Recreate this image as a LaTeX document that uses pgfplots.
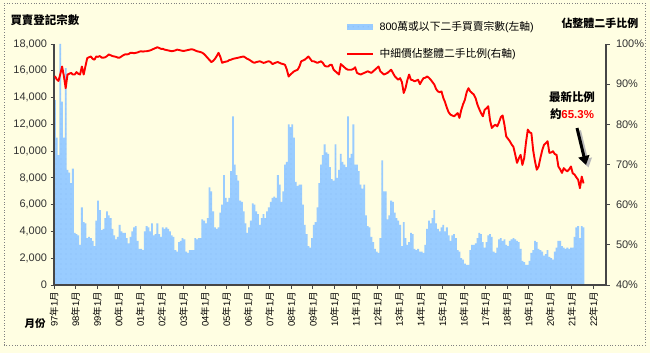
\documentclass[border=0pt]{standalone}
\usepackage{pgfplots}
\pgfplotsset{compat=1.18}
\usepackage{pgfplotstable}
\usepackage{fontspec}
\setmainfont{Liberation Sans}
\newfontfamily\cjk{Noto Sans CJK TC}
\usetikzlibrary{patterns.meta,arrows.meta}
\definecolor{bg}{RGB}{255,254,226}
\definecolor{barblue}{RGB}{153,204,255}
\definecolor{dotblue}{RGB}{110,160,235}
\definecolor{axgray}{RGB}{70,70,70}
\definecolor{lblgray}{RGB}{50,50,50}
\tikzdeclarepattern{
  name=bdots,
  type=uncolored,
  bounding box={(0,0) and (4.5bp,4.5bp)},
  tile size={(4.5bp,4.5bp)},
  code={\fill (2.25bp,2.25bp) circle (0.45bp);}
}
\newcommand\nian{{\cjk 年}}
\newcommand\yue{{\cjk 月}}

\pgfplotstableread[row sep=\\]{
m cnt pct\\
0 13800 92.0\\ 1 11000 91.2\\ 2 9700 90.8\\ 3 18000 92.5\\ 4 13700 94.4\\ 5 11000 92.0\\ 6 16200 89.0\\ 7 8600 92.4\\ 8 8400 92.6\\ 9 7600 92.8\\ 10 8700 92.4\\ 11 3900 92.4\\
12 3800 93.0\\ 13 3700 92.6\\ 14 3000 92.4\\ 15 5800 94.4\\ 16 4700 92.4\\ 17 4600 94.5\\ 18 3500 96.5\\ 19 3600 96.7\\ 20 3500 96.9\\ 21 3300 96.3\\ 22 2900 96.1\\ 23 4800 96.9\\
24 6300 96.8\\ 25 5600 97.0\\ 26 4100 96.6\\ 27 4200 96.6\\ 28 5000 96.7\\ 29 5500 97.0\\ 30 5200 97.4\\ 31 5000 97.2\\ 32 4200 97.0\\ 33 3700 96.9\\ 34 3400 96.8\\ 35 3600 96.6\\
36 4500 96.6\\ 37 4000 96.9\\ 38 3900 97.2\\ 39 3900 97.4\\ 40 3500 97.4\\ 41 3100 97.5\\ 42 3600 97.8\\ 43 4000 97.8\\ 44 4300 97.7\\ 45 4400 97.8\\ 46 3300 97.9\\ 47 2700 98.1\\
48 2700 98.2\\ 49 2600 98.1\\ 50 4000 98.2\\ 51 4400 98.2\\ 52 4300 98.3\\ 53 4000 98.4\\ 54 4600 98.6\\ 55 3700 98.8\\ 56 3800 99.0\\ 57 4600 99.2\\ 58 3800 99.0\\ 59 3600 98.8\\
60 4300 98.8\\ 61 4200 98.6\\ 62 4300 98.5\\ 63 4200 98.4\\ 64 4000 98.3\\ 65 3700 98.2\\ 66 3600 98.3\\ 67 2600 98.4\\ 68 2500 98.6\\ 69 3200 98.5\\ 70 3300 98.4\\ 71 3500 98.3\\
72 3400 98.3\\ 73 2500 98.4\\ 74 2400 98.5\\ 75 2600 98.6\\ 76 2600 98.7\\ 77 2600 98.6\\ 78 3500 98.4\\ 79 3400 98.2\\ 80 3500 98.1\\ 81 3500 98.0\\ 82 4900 97.8\\ 83 4800 97.5\\
84 4600 97.0\\ 85 5000 96.5\\ 86 7300 96.0\\ 87 7000 95.5\\ 88 5500 95.8\\ 89 4300 96.3\\ 90 4200 97.0\\ 91 4300 97.8\\ 92 5400 96.8\\ 93 6000 95.3\\ 94 8200 95.5\\ 95 6500 95.6\\
96 6200 95.7\\ 97 6500 96.0\\ 98 8500 96.1\\ 99 12600 96.3\\ 100 9000 96.4\\ 101 8200 96.5\\ 102 7800 96.6\\ 103 6300 96.7\\ 104 6200 96.8\\ 105 5500 96.9\\ 106 4600 96.6\\ 107 3900 96.3\\
108 4300 96.1\\ 109 4800 95.8\\ 110 6100 95.5\\ 111 6000 95.3\\ 112 5500 95.5\\ 113 5300 95.6\\ 114 4500 95.7\\ 115 5000 95.5\\ 116 5300 95.3\\ 117 5000 95.4\\ 118 5500 95.6\\ 119 5800 95.7\\
120 6200 95.5\\ 121 6500 95.0\\ 122 6600 95.2\\ 123 6500 95.4\\ 124 8200 95.5\\ 125 7500 95.3\\ 126 6200 95.1\\ 127 7000 95.0\\ 128 9000 94.8\\ 129 9200 93.6\\ 130 12000 91.9\\ 131 11800 92.4\\
132 12000 92.8\\ 133 11000 93.2\\ 134 7700 93.4\\ 135 7400 93.6\\ 136 7500 94.4\\ 137 7500 95.7\\ 138 6000 95.9\\ 139 4500 96.1\\ 140 3800 96.5\\ 141 2900 96.9\\ 142 2800 96.3\\ 143 3500 95.7\\
144 4500 95.7\\ 145 4700 95.5\\ 146 5800 95.3\\ 147 7600 95.5\\ 148 9000 95.7\\ 149 9700 95.3\\ 150 10500 94.6\\ 151 9900 94.4\\ 152 9800 94.4\\ 153 8800 94.8\\ 154 7900 94.8\\ 155 7800 93.6\\
156 10500 93.2\\ 157 8000 92.8\\ 158 8600 92.4\\ 159 9800 95.0\\ 160 9200 94.6\\ 161 9000 94.2\\ 162 8800 93.8\\ 163 12600 93.6\\ 164 9500 93.6\\ 165 9800 93.6\\ 166 12000 93.8\\ 167 9000 94.2\\
168 9000 92.8\\ 169 8500 92.6\\ 170 7500 92.4\\ 171 7200 92.6\\ 172 7500 92.8\\ 173 5200 93.0\\ 174 4400 93.2\\ 175 4300 93.0\\ 176 3600 92.8\\ 177 3200 93.2\\ 178 2700 93.6\\ 179 2500 94.0\\
180 2400 94.4\\ 181 3500 93.2\\ 182 9300 92.8\\ 183 7000 92.4\\ 184 7000 92.6\\ 185 4900 92.8\\ 186 5200 93.2\\ 187 6300 93.6\\ 188 6200 92.8\\ 189 5400 92.0\\ 190 5000 91.5\\ 191 4800 91.1\\
192 4500 91.5\\ 193 2900 90.5\\ 194 4700 87.8\\ 195 3500 89.0\\ 196 3000 91.0\\ 197 3200 92.4\\ 198 3900 91.1\\ 199 3800 91.0\\ 200 2700 90.7\\ 201 2600 90.9\\ 202 2700 91.1\\ 203 2500 90.0\\
204 2500 90.8\\ 205 2400 91.5\\ 206 3000 91.6\\ 207 4200 91.9\\ 208 4800 91.6\\ 209 4600 91.1\\ 210 5000 90.5\\ 211 5600 89.9\\ 212 4600 88.8\\ 213 4200 88.2\\ 214 4000 88.0\\ 215 4300 88.2\\
216 4500 86.6\\ 217 4000 85.5\\ 218 4300 84.1\\ 219 3700 83.0\\ 220 3300 82.4\\ 221 3700 82.2\\ 222 3800 82.0\\ 223 3500 82.4\\ 224 2600 82.8\\ 225 2500 81.6\\ 226 2000 83.6\\ 227 1900 85.0\\
228 1600 86.1\\ 229 1500 88.0\\ 230 1500 89.0\\ 231 2600 88.2\\ 232 3000 87.8\\ 233 3000 87.4\\ 234 3100 86.5\\ 235 3500 84.9\\ 236 3900 83.8\\ 237 3800 82.8\\ 238 3200 82.0\\ 239 2800 83.6\\
240 3200 84.0\\ 241 3700 84.5\\ 242 3800 81.0\\ 243 3600 79.1\\ 244 2500 79.6\\ 245 2400 79.9\\ 246 2800 79.5\\ 247 3400 80.5\\ 248 3500 81.8\\ 249 3300 82.2\\ 250 3400 79.9\\ 251 3000 77.0\\
252 2900 76.4\\ 253 3300 75.8\\ 254 3400 75.0\\ 255 3500 74.4\\ 256 3400 72.5\\ 257 3300 70.4\\ 258 3200 71.5\\ 259 2700 72.4\\ 260 1800 69.9\\ 261 1700 71.6\\ 262 1500 75.5\\ 263 1500 78.7\\
264 1800 78.0\\ 265 2400 77.8\\ 266 2600 73.5\\ 267 3300 70.8\\ 268 3200 68.7\\ 269 2700 69.5\\ 270 2600 71.6\\ 271 2500 73.5\\ 272 2200 74.9\\ 273 2300 75.3\\ 274 2600 75.8\\ 275 2100 72.9\\
276 2000 73.0\\ 277 1900 73.3\\ 278 2500 72.6\\ 279 2800 72.4\\ 280 3300 69.5\\ 281 3300 68.8\\ 282 2900 67.9\\ 283 2800 69.1\\ 284 2700 68.6\\ 285 2800 68.3\\ 286 2700 68.8\\ 287 2800 69.5\\
288 2800 67.8\\ 289 3600 67.5\\ 290 4300 66.8\\ 291 4400 66.2\\ 292 3500 64.1\\ 293 4400 67.0\\ 294 4300 65.3\\ 295 4300 nan\\
}\data

\begin{document}
\begin{tikzpicture}[x=1bp,y=1bp]
\path[use as bounding box] (0,0) rectangle (650,353);
\fill[bg] (0,0) rectangle (650,353);
\draw[gray, dotted, line width=0.7bp] (4,8) rectangle (645,350);

\begin{axis}[
  at={(54bp,68bp)}, anchor=south west,
  width=552bp, height=241bp, scale only axis,
  xmin=0, xmax=307, ymin=0, ymax=18000,
  axis x line*=bottom, axis y line*=left,
  axis line style={axgray, line width=1.3bp},
  axis on top,
  scaled y ticks=false,
  xtick={0,12,...,300},
  xticklabels={{97\nian1\yue},{98\nian1\yue},{99\nian1\yue},{00\nian1\yue},{01\nian1\yue},{02\nian1\yue},{03\nian1\yue},{04\nian1\yue},{05\nian1\yue},{06\nian1\yue},{07\nian1\yue},{08\nian1\yue},{09\nian1\yue},{10\nian1\yue},{11\nian1\yue},{12\nian1\yue},{13\nian1\yue},{14\nian1\yue},{15\nian1\yue},{16\nian1\yue},{17\nian1\yue},{18\nian1\yue},{19\nian1\yue},{20\nian1\yue},{21\nian1\yue},{22\nian1\yue}},
  ytick={0,2000,...,18000},
  tick align=outside, major tick length=3.5bp,
  tick style={axgray, line width=0.9bp},
  xticklabel style={rotate=90, anchor=east, font=\fontsize{9.5}{10}\selectfont, text=black},
  yticklabel style={font=\fontsize{11}{12}\selectfont, text=lblgray},
  /pgf/number format/1000 sep={,},
  /pgf/number format/assume math mode=true,
]
\addplot[draw=none, fill=barblue, postaction={pattern=bdots, pattern color=dotblue}, const plot mark left]
  table[x=m, y=cnt] {\data} \closedcycle;
\end{axis}

\begin{axis}[
  at={(54bp,68bp)}, anchor=south west,
  width=552bp, height=241bp, scale only axis,
  xmin=0, xmax=307, ymin=40, ymax=100,
  axis x line=none, axis y line*=right,
  axis line style={axgray, line width=1.3bp},
  ytick={40,50,...,100},
  yticklabel={\pgfmathprintnumber{\tick}\%},
  tick align=outside, major tick length=3.5bp,
  tick style={axgray, line width=0.9bp},
  yticklabel style={font=\fontsize{11}{12}\selectfont, text=lblgray, xshift=3bp},
  /pgf/number format/assume math mode=true,
]
\addplot[red, line width=1.9bp, line join=round] table[x expr=\thisrow{m}+0.5, y=pct] {\data};
\end{axis}

% titles
\node[anchor=west, font=\fontsize{11.5}{12}\selectfont\bfseries] at (7,333) {\cjk 買賣登記宗數};
\node[anchor=west, font=\fontsize{11}{12}\selectfont\bfseries] at (558,330) {\cjk 佔整體二手比例};
\node[font=\fontsize{10.5}{12}\selectfont\bfseries] at (35,29) {\cjk 月份};

% legend
\fill[barblue] (347,323) rectangle (373,329);
\fill[pattern=bdots, pattern color=dotblue] (347,323) rectangle (373,329);
\node[anchor=west, font=\fontsize{10.8}{12}\selectfont] at (376,326) {800{\cjk 萬或以下二手買賣宗數}({\cjk 左軸})};
\draw[red, line width=1.9bp] (347,299) -- (373,299);
\node[anchor=west, font=\fontsize{10.8}{12}\selectfont] at (376,299) {{\cjk 中細價佔整體二手比例}({\cjk 右軸})};

% annotation
\node[font=\fontsize{11.5}{12}\selectfont\bfseries] at (572,256) {\cjk 最新比例};
\node[font=\fontsize{11.5}{12}\selectfont\bfseries] at (572,239) {{\cjk 約}\textcolor{red}{65.3\%}};
\draw[gray!55, line width=3bp, -{Triangle[length=9bp,width=11bp]}] (579.5,222.5) -- (588.5,185.5);
\draw[black, line width=3bp, -{Triangle[length=9bp,width=11bp]}] (577,225) -- (586,188);
\end{tikzpicture}
\end{document}
